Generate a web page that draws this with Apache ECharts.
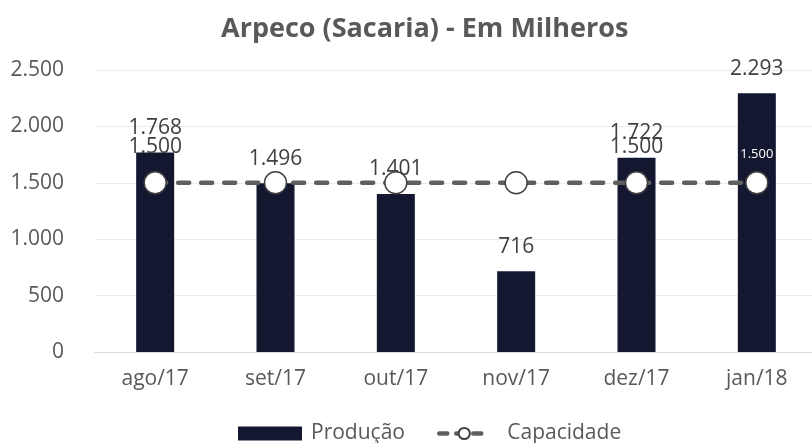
<!DOCTYPE html>
<html>
<head>
<meta charset="utf-8">
<script src="https://cdn.jsdelivr.net/npm/echarts@6/dist/echarts.min.js"></script>
<style>
  html, body { margin: 0; padding: 0; background: #fff; }
  #chart { width: 812px; height: 443px; }
</style>
</head>
<body>
<div id="chart"></div>
<script>
// dados
const categorias = ['ago/17', 'set/17', 'out/17', 'nov/17', 'dez/17', 'jan/18']
const producao = [1768, 1496, 1401, 716, 1722, 2293]
const capacidade = [1500, 1500, 1500, 1500, 1500, 1500]
const yTicks = [0, 500, 1000, 1500, 2000, 2500]

const FONT = '"Open Sans", "Noto Sans", sans-serif'
const fmt = v => String(v).replace(/\B(?=(\d{3})+(?!\d))/g, '.')

// só alguns rótulos de capacidade aparecem no original
const capData = capacidade.map((v, i) => {
  if (i === 0 || i === 4) return { value: v, label: { show: true } }
  if (i === 5) return { value: v, label: { show: true, color: '#fff', fontSize: 13, distance: 10 } }
  return { value: v, label: { show: false } }
})

const chart = echarts.init(document.getElementById('chart'))
chart.setOption({
  animation: false,
  textStyle: { fontFamily: FONT },
  title: {
    text: 'Arpeco (Sacaria) - Em Milheros',
    left: 216, top: 11,
    textStyle: { fontFamily: FONT, fontSize: 27, fontWeight: 'bold', color: '#595959' }
  },
  // o eixo passa um pouco da borda direita, como no original
  grid: { left: 95, width: 722, top: 70, bottom: 91, outerBoundsMode: 'none', containLabel: false },
  legend: [
    {
      data: [{ name: 'Produção', icon: 'rect' }], left: 233, top: 418,
      itemWidth: 64, itemHeight: 14,
      textStyle: { fontFamily: FONT, fontSize: 21, color: '#595959', padding: [0, 0, 0, 4] }
    },
    {
      data: ['Capacidade'], left: 432, top: 418,
      itemWidth: 50, itemHeight: 14,
      lineStyle: { width: 4.5, type: [8, 9], cap: 'round' },
      textStyle: { fontFamily: FONT, fontSize: 21, color: '#595959', padding: [0, 0, 0, 13] }
    }
  ],
  xAxis: {
    type: 'category',
    data: categorias,
    axisLine: { lineStyle: { color: '#d9d9d9' } },
    axisTick: { length: 6, lineStyle: { color: '#d9d9d9' } },
    axisLabel: { fontFamily: FONT, fontSize: 21, color: '#595959', margin: 17 }
  },
  yAxis: {
    type: 'value',
    min: yTicks[0], max: yTicks[yTicks.length - 1], interval: yTicks[1] - yTicks[0],
    axisLine: { show: false },
    axisTick: { show: false },
    splitLine: { lineStyle: { color: '#ebebeb' } },
    axisLabel: { fontFamily: FONT, fontSize: 21, color: '#595959', margin: 31, formatter: fmt }
  },
  series: [
    {
      name: 'Produção',
      type: 'bar',
      data: producao,
      barWidth: 38,
      itemStyle: { color: '#141730' },
      label: {
        show: true, position: 'top', distance: 14,
        fontFamily: FONT, fontSize: 21, color: '#404040',
        formatter: p => fmt(p.value)
      }
    },
    {
      name: 'Capacidade',
      type: 'line',
      data: capData,
      symbol: 'circle',
      symbolSize: 22,
      lineStyle: { color: '#5f5f5f', width: 4.5, type: [11, 12], cap: 'round' },
      itemStyle: { color: '#fff', borderColor: '#404040', borderWidth: 1.5 },
      label: {
        position: 'top', distance: 14,
        fontFamily: FONT, fontSize: 21, color: '#404040',
        formatter: p => fmt(p.value)
      },
      z: 3
    }
  ]
})
</script>
</body>
</html>
